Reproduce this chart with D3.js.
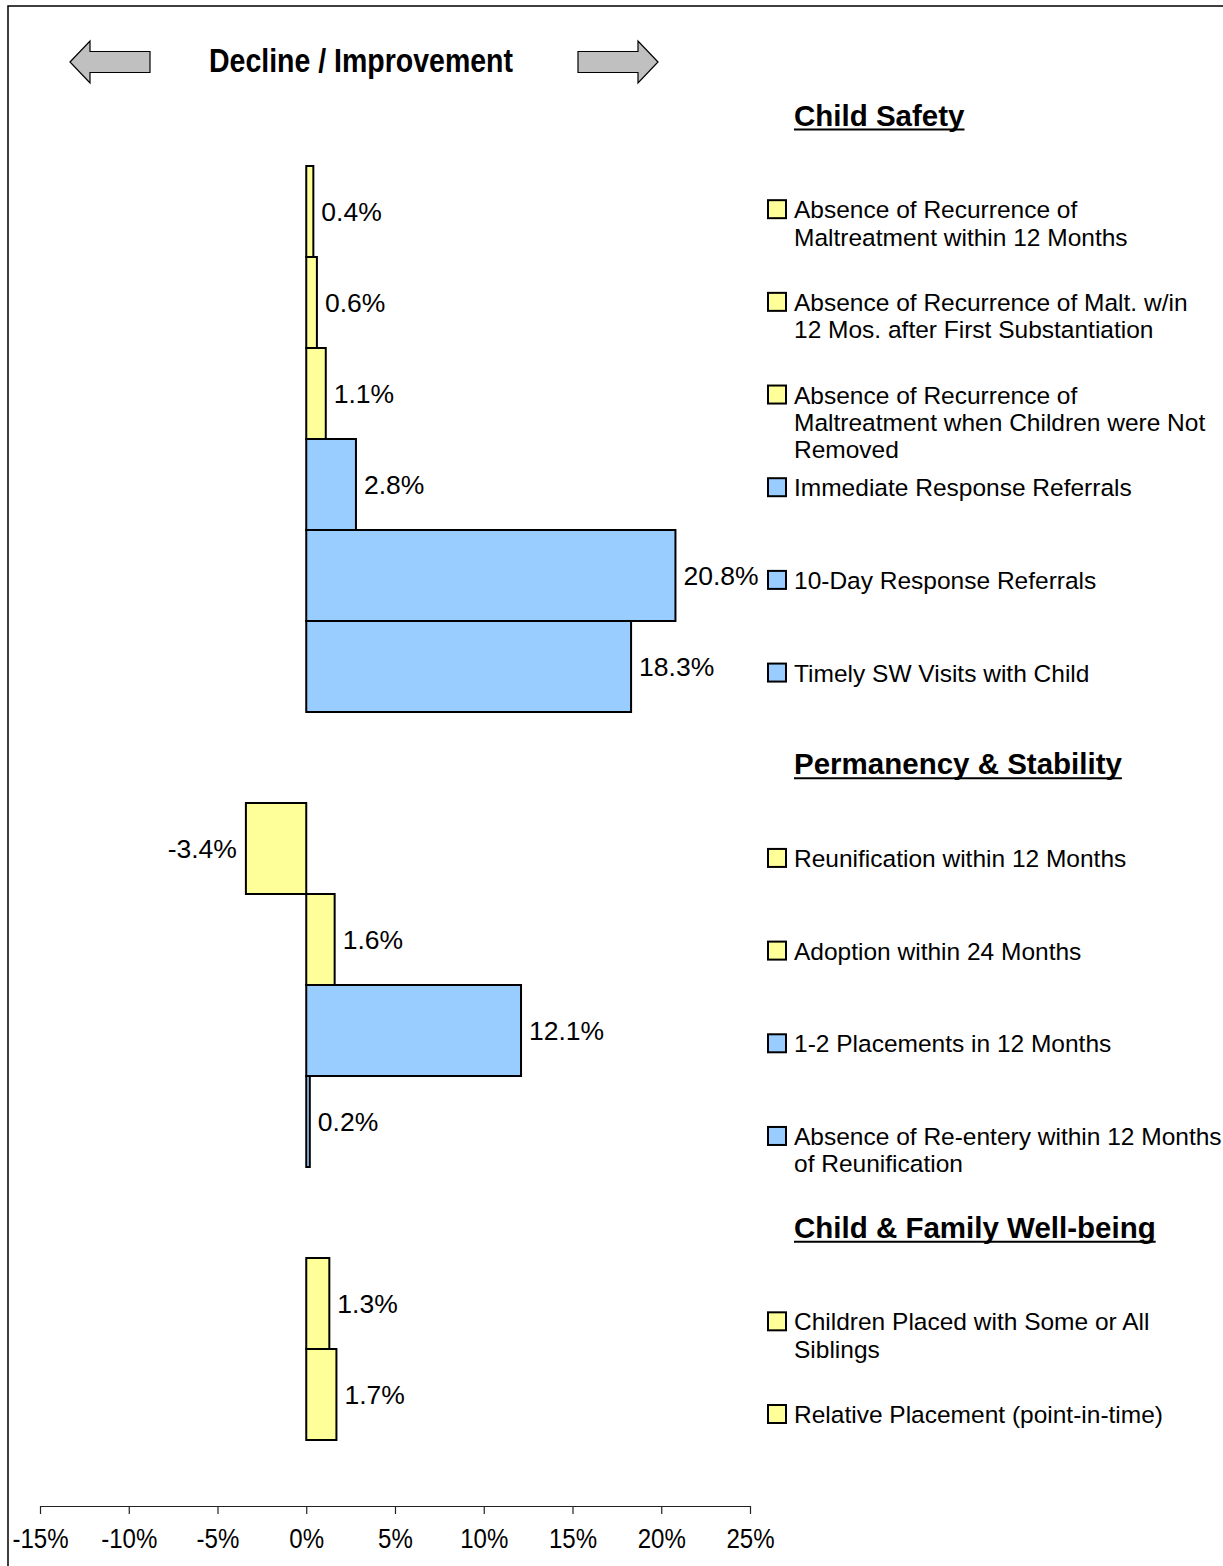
<!DOCTYPE html>
<html>
<head>
<meta charset="utf-8">
<script src="https://cdn.jsdelivr.net/npm/d3@7"></script>
<style>
  body { margin: 0; background: #fff; }
  svg text { font-family: "Liberation Sans", Arial, sans-serif; fill: #000; }
</style>
</head>
<body>
<svg width="1223" height="1566"></svg>
<script>
// chart data
const groups = ["Child Safety", "Permanency & Stability", "Child & Family Well-being"];
const measures = [
  ["Absence of Recurrence of", "Maltreatment within 12 Months"],
  ["Absence of Recurrence of Malt. w/in", "12 Mos. after First Substantiation"],
  ["Absence of Recurrence of", "Maltreatment when Children were Not", "Removed"],
  ["Immediate Response Referrals"],
  ["10-Day Response Referrals"],
  ["Timely SW Visits with Child"],
  ["Reunification within 12 Months"],
  ["Adoption within 24 Months"],
  ["1-2 Placements in 12 Months"],
  ["Absence of Re-entery within 12 Months", "of Reunification"],
  ["Children Placed with Some or All", "Siblings"],
  ["Relative Placement (point-in-time)"]
];
const measureGroup = [0, 0, 0, 0, 0, 0, 1, 1, 1, 1, 2, 2];
const changes = [0.4, 0.6, 1.1, 2.8, 20.8, 18.3, -3.4, 1.6, 12.1, 0.2, 1.3, 1.7];
const kinds = ["y", "y", "y", "b", "b", "b", "y", "y", "b", "b", "y", "y"];
const tickValues = [-15, -10, -5, 0, 5, 10, 15, 20, 25];

const colors = { y: "#FFFF99", b: "#99CCFF" };

const svg = d3.select('svg');

// outer frame
svg.append('rect')
  .attr('x', 8).attr('y', 6)
  .attr('width', 1240).attr('height', 1600)
  .attr('fill', 'none').attr('stroke', '#000').attr('stroke-width', 1.5);

// build the slot list: one header slot per group, then its measures
const slots = [];
groups.forEach((g, gi) => {
  slots.push({ type: 'header', key: 'h' + gi, text: g });
  measures.forEach((m, i) => {
    if (measureGroup[i] === gi) slots.push({ type: 'item', key: 'm' + i, i: i });
  });
});
const items = slots.filter(s => s.type === 'item');
const headers = slots.filter(s => s.type === 'header');

const x = d3.scaleLinear().domain([-15, 25]).range([40, 750]);
const y = d3.scaleBand().domain(slots.map(s => s.key)).range([75, 1440]).padding(0);
const ly = d3.scalePoint().domain(slots.map(s => s.key)).range([117.5, 1415]);

// bars
const bars = svg.append('g');
bars.selectAll('rect')
  .data(items)
  .join('rect')
    .attr('x', d => x(Math.min(0, changes[d.i])))
    .attr('y', d => y(d.key))
    .attr('width', d => Math.abs(x(changes[d.i]) - x(0)))
    .attr('height', y.bandwidth())
    .attr('fill', d => colors[kinds[d.i]])
    .attr('stroke', '#000')
    .attr('stroke-width', 2);

// value labels
bars.selectAll('text')
  .data(items)
  .join('text')
    .attr('x', d => changes[d.i] < 0 ? x(changes[d.i]) - 9 : x(changes[d.i]) + 8)
    .attr('y', d => y(d.key) + y.bandwidth() / 2)
    .attr('dy', '0.36em')
    .attr('text-anchor', d => changes[d.i] < 0 ? 'end' : 'start')
    .style('font-size', '26.5px')
    .text(d => changes[d.i].toFixed(1) + '%');

// axis (labels look condensed in the original)
const axis = svg.append('g')
  .attr('transform', 'translate(0,1506)')
  .call(d3.axisBottom(x).tickValues(tickValues).tickSize(8).tickSizeOuter(0)
    .tickFormat(d => d + '%'));
axis.selectAll('path, line').attr('stroke', '#222').attr('stroke-width', 1.2);
axis.selectAll('text')
  .attr('y', 42)
  .attr('dy', 0)
  .attr('transform', 'scale(0.86,1)')
  .style('font-size', '28px')
  .attr('fill', '#000');

// legend
const legend = svg.append('g');
const li = legend.selectAll('g.item')
  .data(items)
  .join('g')
    .attr('class', 'item')
    .attr('transform', d => `translate(0,${ly(d.key)})`);
li.append('rect')
  .attr('x', 768).attr('y', -10)
  .attr('width', 18).attr('height', 18)
  .attr('fill', d => colors[kinds[d.i]])
  .attr('stroke', '#000').attr('stroke-width', 2);
li.append('text')
  .attr('x', 794)
  .style('font-size', '24.5px')
  .selectAll('tspan')
  .data(d => measures[d.i])
  .join('tspan')
    .attr('x', 794)
    .attr('y', (d, k) => k * 27.3)
    .attr('dy', '0.33em')
    .text(d => d);

// group headers, underlined
const hg = legend.selectAll('g.header')
  .data(headers)
  .join('g')
    .attr('class', 'header')
    .attr('transform', d => `translate(794,${ly(d.key) - 2.5})`);
hg.append('text')
  .attr('dy', '0.36em')
  .style('font-size', '29.5px')
  .style('font-weight', 'bold')
  .text(d => d.text);
hg.each(function () {
  const t = d3.select(this).select('text');
  const w = t.node().getComputedTextLength();
  d3.select(this).append('line')
    .attr('x1', 0).attr('x2', w)
    .attr('y1', 14.5).attr('y2', 14.5)
    .attr('stroke', '#000').attr('stroke-width', 2);
});

// title with direction arrows
const arrow = (tipX, dir) => {
  const head = 20, body = 60, hh = 21, bh = 10.5, cy = 62;
  const bx = tipX + dir * head, ex = bx + dir * body;
  return `M${tipX},${cy} L${bx},${cy - hh} L${bx},${cy - bh} L${ex},${cy - bh} L${ex},${cy + bh} L${bx},${cy + bh} L${bx},${cy + hh} Z`;
};
svg.append('path').attr('d', arrow(70, 1))
  .attr('fill', '#C0C0C0').attr('stroke', '#000').attr('stroke-width', 1.2);
svg.append('path').attr('d', arrow(658, -1))
  .attr('fill', '#C0C0C0').attr('stroke', '#000').attr('stroke-width', 1.2);
svg.append('text')
  .attr('x', 209).attr('y', 72)
  .attr('textLength', 304)
  .attr('lengthAdjust', 'spacingAndGlyphs')
  .style('font-size', '33px')
  .style('font-weight', 'bold')
  .text('Decline / Improvement');
</script>
</body>
</html>
